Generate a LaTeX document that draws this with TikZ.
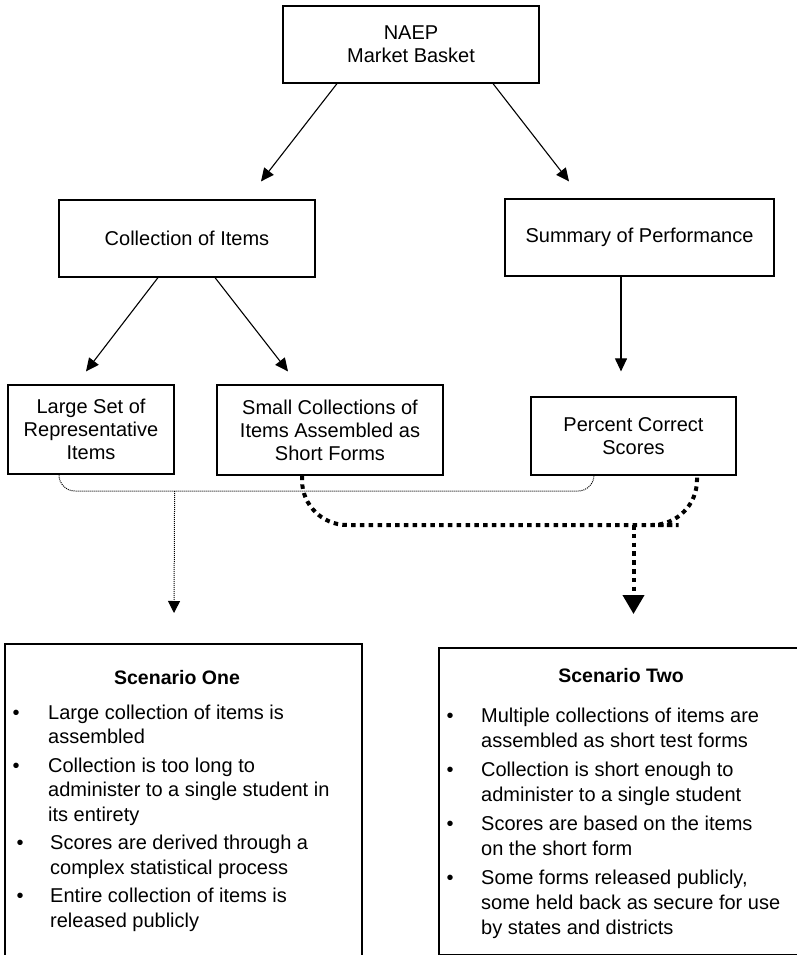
\documentclass[tikz,border=0pt]{standalone}
\usepackage{fontspec}
\setmainfont{Liberation Sans}
\usetikzlibrary{arrows.meta}

\begin{document}
\begin{tikzpicture}[x=1pt,y=-1pt,
  blk/.style={draw, line width=1.2pt, align=center, inner sep=0pt, font=\fontsize{20}{23}\selectfont},
  arr/.style={line width=1.1pt, -{Triangle[length=13pt,width=12pt]}},
  thindot/.style={line width=1pt, dash pattern=on 1pt off 1pt, rounded corners=16pt},
  thickdot/.style={line width=4pt, dash pattern=on 4.5pt off 4.3pt, rounded corners=45pt},
  ttl/.style={font=\fontsize{19.5}{23}\selectfont\bfseries, inner sep=0pt, anchor=base},
  lst/.style={inner sep=0pt, anchor=base west}]
\clip (0,0) rectangle (797,955);
\node[blk, minimum width=256pt, minimum height=77pt] (naep) at (411,44.5) {NAEP\\Market Basket};
\node[blk, minimum width=256pt, minimum height=77pt] (coll) at (187,238.5) {Collection of Items};
\node[blk, minimum width=269pt, minimum height=77pt] (summ) at (639.5,237.5) {Summary of Performance};
\node[blk, minimum width=166pt, minimum height=89pt] (large) at (91,429.5) {Large Set of\\Representative\\Items};
\node[blk, minimum width=226pt, minimum height=90pt] (small) at (330,430) {Small Collections of\\Items Assembled as\\Short Forms};
\node[blk, minimum width=205pt, minimum height=78pt] (pct) at (633.5,436) {Percent Correct\\Scores};
\node[blk, minimum width=357pt, minimum height=336pt] (scA) at (183.5,812) {};
\node[blk, minimum width=371pt, minimum height=306.3pt] (scB) at (624.5,801.15) {};
\node[ttl] (ttlA) at (177,684) {Scenario One};
\node[ttl] (ttlB) at (621,682) {Scenario Two};
\node[lst, font=\fontsize{20}{24.5}\selectfont] (lstA) at (12.5,719) {\begin{tabular}[t]{@{}p{35.5pt}@{}l@{}}
\textbullet & Large collection of items is\\
 & assembled\\[4pt]
\textbullet & Collection is too long to\\
 & administer to a single student in\\
 & its entirety\\[4pt]
\hspace*{4pt}\textbullet & \hspace*{2pt}Scores are derived through a\\
 & \hspace*{2pt}complex statistical process\\[4pt]
\hspace*{4pt}\textbullet & \hspace*{2pt}Entire collection of items is\\
 & \hspace*{2pt}released publicly
\end{tabular}};
\node[lst, font=\fontsize{20}{25}\selectfont] (lstB) at (446.5,722) {\begin{tabular}[t]{@{}p{34.5pt}@{}l@{}}
\textbullet & Multiple collections of items are\\
 & assembled as short test forms\\[4pt]
\textbullet & Collection is short enough to\\
 & administer to a single student\\[4pt]
\textbullet & Scores are based on the items\\
 & on the short form\\[4pt]
\textbullet & Some forms released publicly,\\
 & some held back as secure for use\\
 & by states and districts
\end{tabular}};
\coordinate (j1) at (large.south east |- 0,491);
\coordinate (j2) at (pct.south |- 0,525);
\coordinate (tipA) at (174,613);
\coordinate (tipB) at (633.5,614);
\draw[arr] ([xshift=-74pt]naep.south) -- ([xshift=74pt,yshift=18pt]coll.north);
\draw[arr] ([xshift=82pt]naep.south) -- ([xshift=-70.5pt,yshift=17pt]summ.north);
\draw[arr] ([xshift=-29pt]coll.south) -- ([xshift=-5pt,yshift=13pt]large.north);
\draw[arr] ([xshift=28pt]coll.south) -- ([xshift=-42pt,yshift=13pt]small.north);
\draw[arr] ([xshift=-18.5pt]summ.south) -- ([xshift=-12.5pt,yshift=25pt]pct.north);
\draw[thindot] ([xshift=-32pt]large.south) |- (j1) -| ([xshift=-39.5pt]pct.south);
\draw[thindot, -{Triangle[length=12pt,width=12pt]}] (j1) -- (tipA);
\draw[thickdot] ([xshift=-28pt]small.south) |- (j2) -| ([xshift=63.5pt]pct.south);
\draw[thickdot, -{Triangle[length=19pt,width=21pt]}] (j2) -- (tipB);
\end{tikzpicture}
\end{document}
